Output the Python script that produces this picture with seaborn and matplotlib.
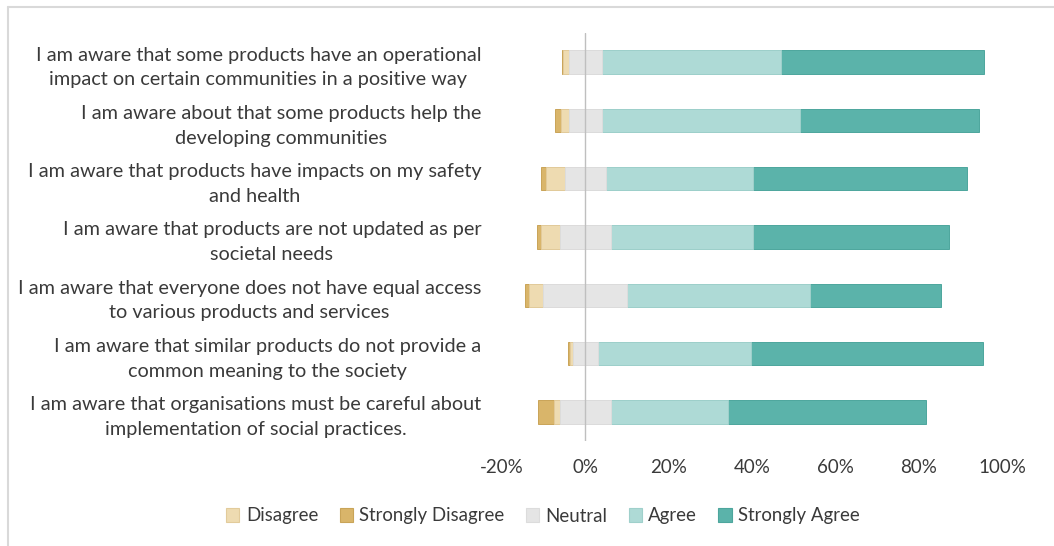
import numpy as np
import pandas as pd
import matplotlib
matplotlib.use('Agg')
import matplotlib.pyplot as plt
import matplotlib.ticker as mticker
from matplotlib.patches import Patch
from matplotlib.lines import Line2D
import seaborn as sns

# --- data (percent of respondents) ---
statements = [
    "I am aware that some products have an operational\nimpact on certain communities in a positive way",
    "I am aware about that some products help the\ndeveloping communities",
    "I am aware that products have impacts on my safety\nand health",
    "I am aware that products are not updated as per\nsocietal needs",
    "I am aware that everyone does not have equal access\nto various products and services",
    "I am aware that similar products do not provide a\ncommon meaning to the society",
    "I am aware that organisations must be careful about\nimplementation of social practices.",
]
strongly_disagree = [0.3, 1.5, 1.2, 0.9, 1.0, 0.4, 3.9]
disagree = [1.4, 1.9, 4.6, 4.6, 3.5, 0.7, 1.5]
neutral = [8.0, 8.0, 9.8, 12.1, 20.1, 6.1, 12.1]
agree = [43.0, 47.4, 35.4, 34.2, 43.9, 36.8, 28.1]
strongly_agree = [48.6, 43.0, 51.3, 47.1, 31.5, 55.6, 47.7]

legend_order = ["Disagree", "Strongly Disagree", "Neutral", "Agree", "Strongly Agree"]
x_ticks = [-20, 0, 20, 40, 60, 80, 100]

# --- colours ---
COLORS = {
    "Disagree": ("#EEDBB1", "#E2CB9B"),
    "Strongly Disagree": ("#D9B56A", "#C9A458"),
    "Neutral": ("#E5E5E5", "#DCDCDC"),
    "Agree": ("#AEDAD6", "#9FD0CB"),
    "Strongly Agree": ("#5BB3AA", "#4DA69D"),
}
TEXT_COLOR = "#3a3a3a"

sns.set_theme(style="white")
plt.rcParams['font.family'] = ['Lato', 'DejaVu Sans']

df = pd.DataFrame({
    "statement": statements,
    "strongly_disagree": strongly_disagree,
    "disagree": disagree,
    "neutral": neutral,
    "agree": agree,
    "strongly_agree": strongly_agree,
})

# cumulative ends for the diverging layout (neutral split around 0)
half_n = df["neutral"] / 2
df["sa_end"] = half_n + df["agree"] + df["strongly_agree"]
df["a_end"] = half_n + df["agree"]
df["n_pos"] = half_n
df["sd_end"] = -(half_n + df["disagree"] + df["strongly_disagree"])
df["d_end"] = -(half_n + df["disagree"])
df["n_neg"] = -half_n

fig = plt.figure(figsize=(10.54, 5.46), dpi=100)
ax = fig.add_axes([502 / 1054, 1 - 441 / 546, 500 / 1054, 408 / 546])

layers = [
    ("sa_end", "Strongly Agree"),
    ("a_end", "Agree"),
    ("n_pos", "Neutral"),
    ("sd_end", "Strongly Disagree"),
    ("d_end", "Disagree"),
    ("n_neg", "Neutral"),
]
for col, name in layers:
    face, edge = COLORS[name]
    sns.barplot(data=df, x=col, y="statement", orient="h", color=face,
                saturation=1, width=0.4, errorbar=None,
                edgecolor=edge, linewidth=0.7, ax=ax)

ax.axvline(0, color="#BFBFBF", lw=1, zorder=5)

ax.set_xlim(-20, 100)
ax.set_ylim(6.5, -0.5)
ax.set_xticks(x_ticks)
ax.xaxis.set_major_formatter(mticker.FuncFormatter(lambda v, p: f"{v:.0f}%"))
ax.set_xlabel("")
ax.set_ylabel("")
for s in ax.spines.values():
    s.set_visible(False)
ax.tick_params(axis="x", length=0, pad=13, labelsize=13.5, labelcolor=TEXT_COLOR)
ax.tick_params(axis="y", length=0, pad=15, labelsize=14.3, labelcolor=TEXT_COLOR)
for lab in ax.get_yticklabels():
    lab.set_multialignment("center")
    lab.set_linespacing(1.55)

handles = [Patch(facecolor=COLORS[n][0], edgecolor=COLORS[n][1], lw=0.8, label=n)
           for n in legend_order]
fig.legend(handles=handles, loc="center", bbox_to_anchor=(543 / 1054, 1 - 516 / 546),
           ncol=5, frameon=False, fontsize=13.4, handlelength=0.7, handleheight=0.7,
           handletextpad=0.35, columnspacing=1.15, labelcolor=TEXT_COLOR)

# light chart-area border (top and left edges visible)
fig.add_artist(Line2D([8 / 1054, 1], [1 - 7 / 546, 1 - 7 / 546], transform=fig.transFigure,
                      color="#D9D9D9", lw=1.5))
fig.add_artist(Line2D([8 / 1054, 8 / 1054], [0, 1 - 7 / 546], transform=fig.transFigure,
                      color="#D9D9D9", lw=1.5))

fig.savefig("out.png", dpi=100)
